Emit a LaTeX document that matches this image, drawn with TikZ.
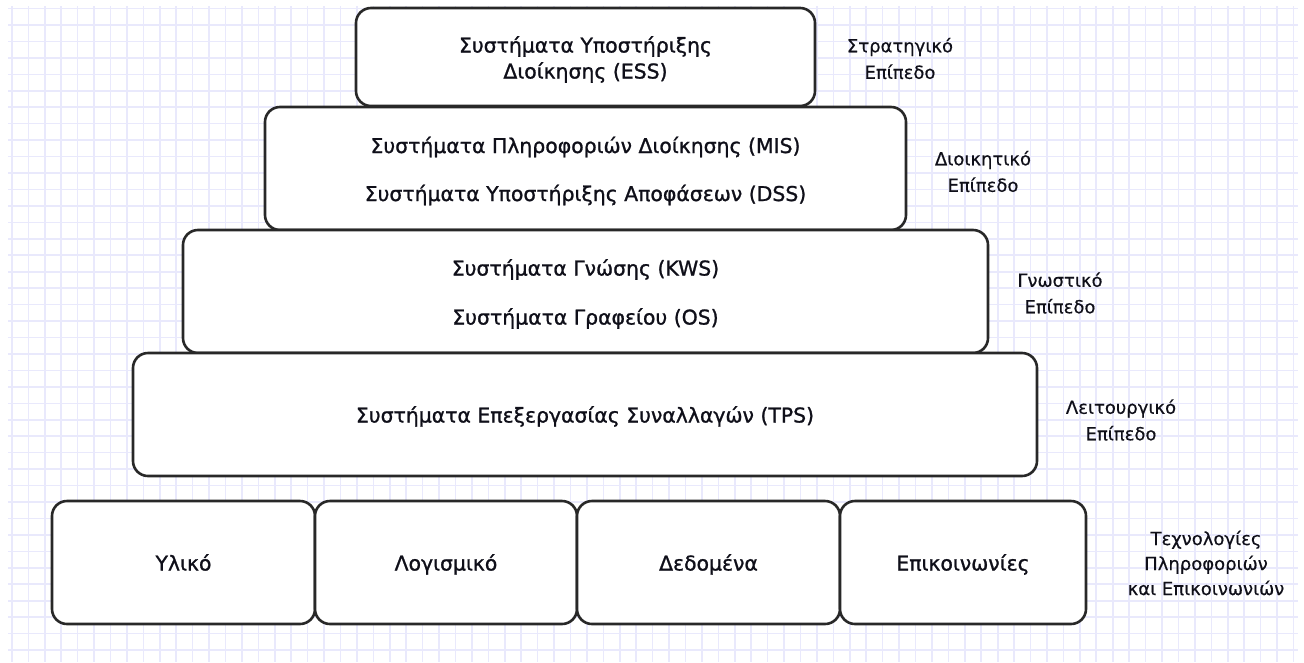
\documentclass[tikz,border=0pt]{standalone}
\usepackage{fontspec}
\setmainfont{DejaVu Sans}
\newfontfamily\boxfont[FakeBold=1.1]{DejaVu Sans}
\newfontfamily\lvlfont[FakeBold=0.4]{DejaVu Sans}
\definecolor{gridc}{RGB}{233,233,252}
\definecolor{edgec}{RGB}{40,40,40}
\definecolor{inkc}{RGB}{15,15,25}
\begin{document}
\begin{tikzpicture}[x=1pt,y=-1pt,
  gridline/.style={draw=gridc,line width=1.6pt},
  box/.style={draw=edgec,line width=2.6pt,rounded corners=15pt,fill=white,inner sep=0pt},
  boxtext/.style={inner sep=0pt,font=\boxfont\fontsize{20.4}{26}\selectfont,text=inkc,
    align=center,yshift=-2.5pt},
  oneline/.style={text height=15pt,text depth=4pt},
  lvl/.style={font=\lvlfont\fontsize{18}{26.5}\selectfont,text=inkc,align=center,inner sep=0pt}]
\useasboundingbox (0,0) rectangle (1304,662);
\fill[white] (0,0) rectangle (1304,662);
% background grid
\foreach \k in {0,...,78} \draw[gridline] (11.9+16.43*\k,6) -- (11.9+16.43*\k,662);
\foreach \k in {0,...,39} \draw[gridline] (8,8.5+16.45*\k) -- (1298,8.5+16.45*\k);
% pyramid of information systems
\node[box,minimum width=641pt,minimum height=123pt] (mis) at (585.5,168.5) {};
\node[box,minimum width=459pt,minimum height=98pt] (ess) at (585.5,57) {};
\node[box,minimum width=805pt,minimum height=123pt] (kws) at (585.5,291.5) {};
\node[box,minimum width=904pt,minimum height=123pt] (tps) at (585,414.5) {};
\node[boxtext] (ess-t) at (ess.center) {Συστήματα Υποστήριξης\\Διοίκησης (ESS)};
\node[boxtext] (mis-t) at (mis.center)
  {Συστήματα Πληροφοριών Διοίκησης (MIS)\\[22pt]Συστήματα Υποστήριξης Αποφάσεων (DSS)};
\node[boxtext] (kws-t) at (kws.center) {Συστήματα Γνώσης (KWS)\\[23pt]Συστήματα Γραφείου (OS)};
\node[boxtext,oneline] (tps-t) at (tps.center) {Συστήματα Επεξεργασίας Συναλλαγών (TPS)};
% infrastructure row
\node[box,minimum width=263pt,minimum height=123pt] (hw) at (183.5,562.5) {};
\node[box,minimum width=262pt,minimum height=123pt] (sw) at (446,562.5) {};
\node[box,minimum width=263pt,minimum height=123pt] (data) at (708.5,562.5) {};
\node[box,minimum width=246pt,minimum height=123pt] (comm) at (963,562.5) {};
\node[boxtext,oneline] (hw-t) at (hw.center) {Υλικό};
\node[boxtext,oneline] (sw-t) at (sw.center) {Λογισμικό};
\node[boxtext,oneline] (data-t) at (data.center) {Δεδομένα};
\node[boxtext,oneline] (comm-t) at (comm.center) {Επικοινωνίες};
% level labels
\node[lvl] (l1) at (900,58.5) {Στρατηγικό\\Επίπεδο};
\node[lvl] (l2) at (983,171.5) {Διοικητικό\\Επίπεδο};
\node[lvl] (l3) at (1060,293) {Γνωστικό\\Επίπεδο};
\node[lvl] (l4) at (1121,420) {Λειτουργικό\\Επίπεδο};
\node[lvl,font=\lvlfont\fontsize{18}{25}\selectfont] (l5) at (1206,563) {Τεχνολογίες\\Πληροφοριών\\και Επικοινωνιών};
\end{tikzpicture}
\end{document}
